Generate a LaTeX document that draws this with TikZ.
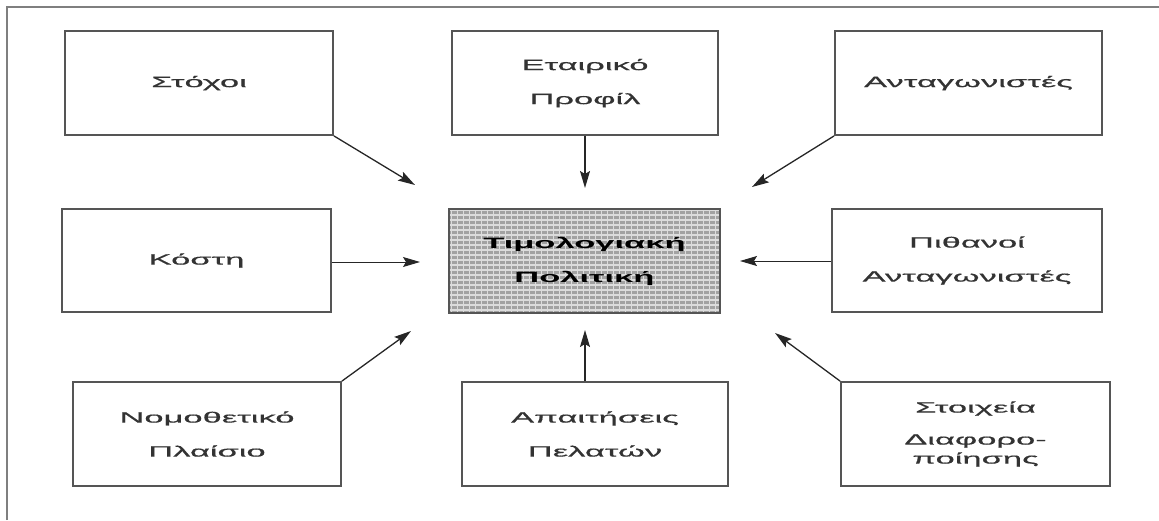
\documentclass[tikz,border=0pt]{standalone}
\usepackage{fontspec}
\setmainfont[FakeStretch=2.3]{Liberation Sans}
\newfontfamily\regfont[FakeStretch=2.3,FakeBold=0.6]{Liberation Sans}
\newfontfamily\strongfont[FakeStretch=2.3]{Liberation Sans}
\usetikzlibrary{arrows.meta,backgrounds}
\definecolor{txt}{HTML}{333333}
\definecolor{edge}{HTML}{555555}
\definecolor{frame}{HTML}{7F7F7F}
\definecolor{hatchbase}{HTML}{A2A2A2}
\definecolor{hatchline}{HTML}{DCDCDC}
\tikzset{
  factor/.style={draw=edge, line width=1.8pt, minimum width=268pt, minimum height=104pt,
    inner sep=0pt, align=center, text=txt, font=\regfont\fontsize{15}{34}\selectfont},
  core/.style={draw=edge, line width=1.8pt, minimum width=271pt, minimum height=104pt,
    inner sep=0pt, align=center, text=black, font=\strongfont\bfseries\fontsize{15}{34}\selectfont},
  influence/.style={draw=black!85, line width=1.3pt, -{Stealth[length=17pt,width=10pt,inset=3pt]}},
}
\begin{document}
\begin{tikzpicture}[x=1pt,y=-1pt]
\useasboundingbox (0,0) rectangle (1159,520);
\draw[frame, line width=2pt] (7,520) -- (7,7) -- (1159,7);

\node[factor] (goals)   at (199,83)   {Στόχοι};
\node[factor, minimum width=266pt] (profile) at (585,83) {Εταιρικό\\Προφίλ};
\node[factor, minimum width=267pt] (comp)    at (968.5,83) {Ανταγωνιστές};
\node[factor, minimum width=269pt, minimum height=103pt] (cost) at (196.5,260.5) {Κόστη};
\node[core] (policy) at (584.5,261) {Τιμολογιακή\\Πολιτική};
\node[factor, minimum width=270pt, minimum height=103pt] (pot) at (967,260.5) {Πιθανοί\\Ανταγωνιστές};
\node[factor] (law)  at (207,434) {Νομοθετικό\\Πλαίσιο};
\node[factor, minimum width=266pt] (cust) at (595,434) {Απαιτήσεις\\Πελατών};
\node[factor, minimum width=269pt] (diff) at (975.5,434) {Στοιχεία\\[-2pt]Διαφορο-\\[-15pt]ποίησης};

\begin{pgfonlayer}{background}
  \fill[hatchbase] (policy.south west) rectangle (policy.north east);
  \begin{scope}
    \clip (policy.south west) rectangle (policy.north east);
    \foreach \y in {210,215,...,316} {\draw[hatchline, line width=1.4pt] (440,\y) -- (730,\y);}
    \foreach \x in {451,457,...,722} {\draw[hatchline, line width=1pt] (\x,200) -- (\x,320);}
  \end{scope}
\end{pgfonlayer}

\coordinate (t1) at (415,185);
\coordinate (t2) at (585,188);
\coordinate (t3) at (752,187);
\coordinate (t4) at (420,262);
\coordinate (t5) at (740,261);
\coordinate (t6) at (411,331);
\coordinate (t7) at (585,330);
\coordinate (t8) at (775,333);

\draw[influence] (goals.south east) -- (t1);
\draw[influence] (profile.south) -- (t2);
\draw[influence] (comp.south west) -- (t3);
\draw[influence, line width=1pt] (cost.east |- t4) -- (t4);
\draw[influence, line width=1pt] (pot.west |- t5) -- (t5);
\draw[influence] (law.north east) -- (t6);
\draw[influence] (cust.north -| t7) -- (t7);
\draw[influence] (diff.north west) -- (t8);
\end{tikzpicture}
\end{document}
